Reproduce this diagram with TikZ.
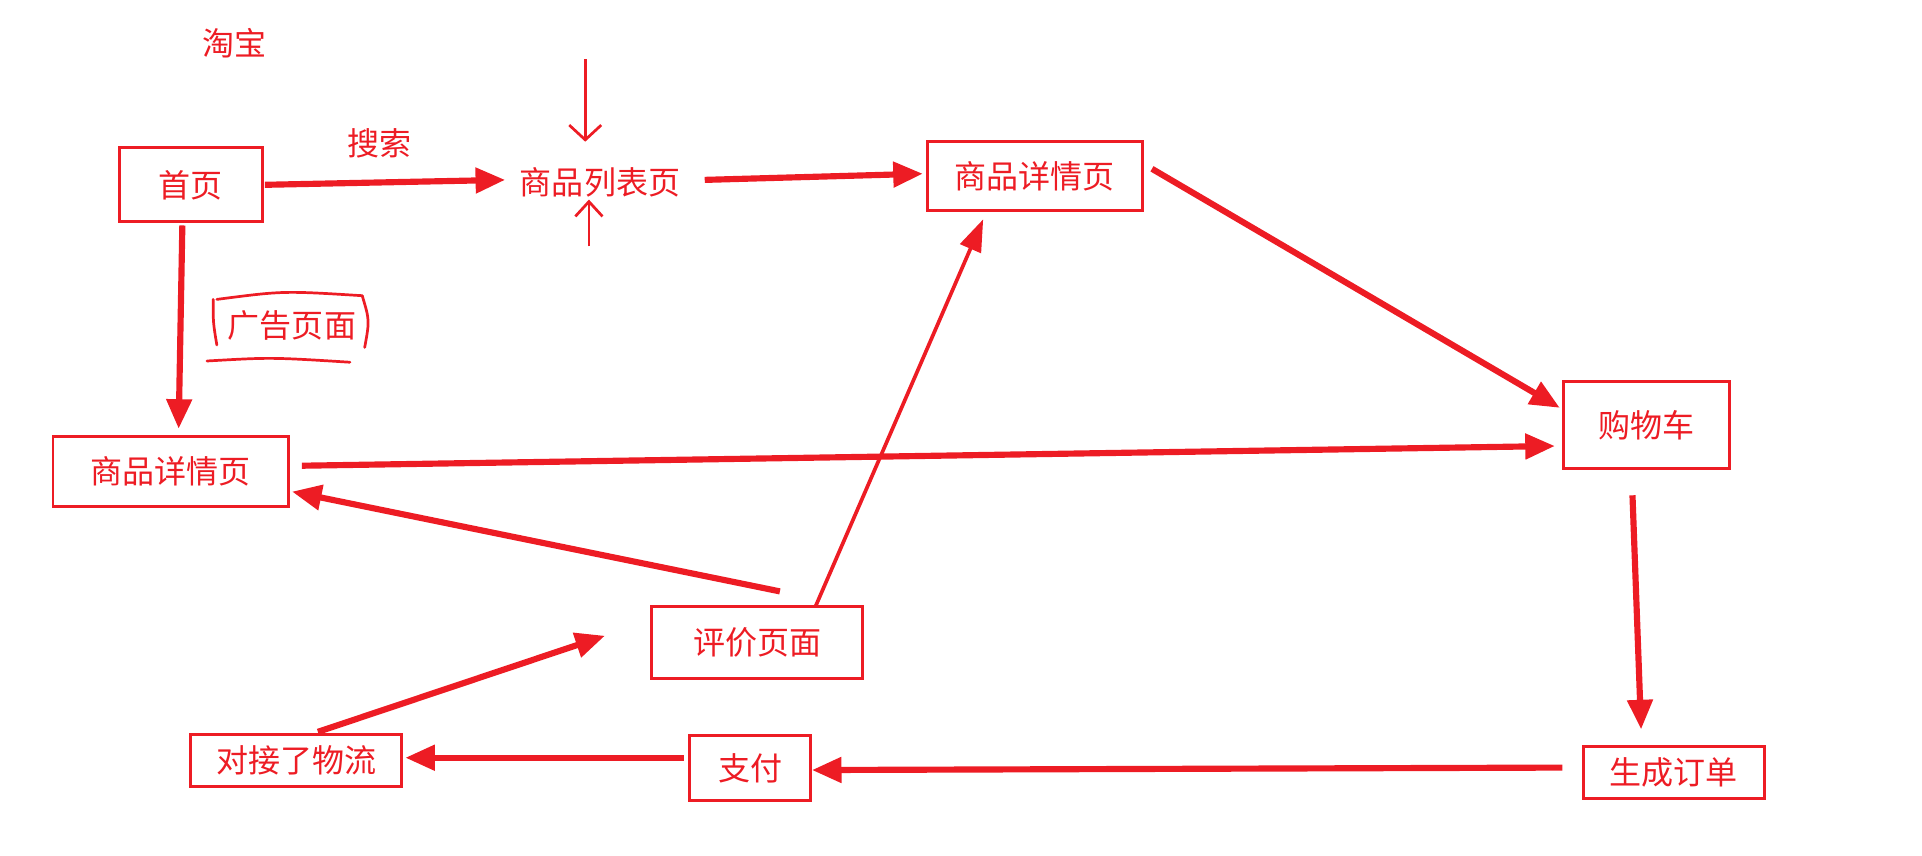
\documentclass[tikz,border=0pt]{standalone}
\usepackage{fontspec}
\setmainfont{Noto Sans CJK SC}
\usetikzlibrary{arrows.meta}
\definecolor{rd}{RGB}{237,28,36}
\tikzset{
 box/.style={draw=rd,line width=2.4pt,text=rd,font=\fontsize{26}{28}\selectfont,inner sep=0pt},
 lab/.style={text=rd,font=\fontsize{26}{28}\selectfont},
 big/.style={draw=rd,line width=5pt,-{Triangle[length=24pt,width=20pt]}},
 thin/.style={draw=rd,line width=2.2pt},
}
\begin{document}
\begin{tikzpicture}[x=1pt,y=-1pt]
\useasboundingbox (0,0) rectangle (1560,694);
\node[lab] (tb) at (190,35) {淘宝};
\node[box,minimum width=116pt,minimum height=60pt] (home) at (155,150) {首页};
\node[lab] (ss) at (308,116) {搜索};
\node[lab] (list) at (487,148) {商品列表页};
\node[box,minimum width=174pt,minimum height=56pt] (d1) at (840,143) {商品详情页};
\node[lab] (ad) at (237,264) {广告页面};
\node[box,minimum width=191pt,minimum height=57pt] (d2) at (138.5,382.5) {商品详情页};
\node[box,minimum width=135pt,minimum height=70pt] (cart) at (1336.5,345) {购物车};
\node[box,minimum width=171pt,minimum height=59pt] (pj) at (614.5,521.5) {评价页面};
\node[box,minimum width=171pt,minimum height=42pt] (wl) at (240.5,617) {对接了物流};
\node[box,minimum width=98pt,minimum height=53pt] (pay) at (609,623.5) {支付};
\node[box,minimum width=147pt,minimum height=42pt] (order) at (1358.5,627) {生成订单};
% hand drawn bracket around ad
\draw[thin,line cap=round] (173,243) .. controls (173,262) .. (176,280);
\draw[thin,line cap=round] (176,243) .. controls (230,236) .. (294,240);
\draw[thin,line cap=round] (294,240) .. controls (300,260) .. (296,282);
\draw[thin,line cap=round] (168,293) .. controls (220,290) .. (284,294);
% end points
\coordinate (ta) at (475,48); \coordinate (tb2) at (475,115);
\coordinate (ua) at (478,200); \coordinate (ub) at (478,162);
\coordinate (a1) at (215,150); \coordinate (b1) at (410,146);
\coordinate (a2) at (572,146); \coordinate (b2) at (749,141);
\coordinate (a3) at (935,137); \coordinate (b3) at (1266,331);
\coordinate (a4) at (148,183); \coordinate (b4) at (145,348);
\coordinate (a5) at (245,378); \coordinate (b5) at (1262,362);
\coordinate (a6) at (633,480); \coordinate (b6) at (237,399);
\coordinate (a7) at (662,492); \coordinate (b7) at (798,178);
\coordinate (a8) at (1325,402); \coordinate (b8) at (1332,592);
\coordinate (a9) at (1268,623); \coordinate (b9) at (659,625);
\coordinate (a10) at (555,615); \coordinate (b10) at (329,615);
\coordinate (a11) at (258,594); \coordinate (b11) at (491,516);
\draw[thin,-{Straight Barb[length=12pt,width=26pt]}] (ta) -- (tb2);
\draw[thin,-{Straight Barb[length=12pt,width=22pt]}] (ua) -- (ub);
\draw[big] (a1) -- (b1);
\draw[big] (a2) -- (b2);
\draw[big] (a3) -- (b3);
\draw[big] (a4) -- (b4);
\draw[big] (a5) -- (b5);
\draw[big] (a6) -- (b6);
\draw[draw=rd,line width=3pt,-{Triangle[length=26pt,width=18pt]}] (a7) -- (b7);
\draw[big] (a8) -- (b8);
\draw[big] (a9) -- (b9);
\draw[big] (a10) -- (b10);
\draw[big] (a11) -- (b11);
\end{tikzpicture}
\end{document}
